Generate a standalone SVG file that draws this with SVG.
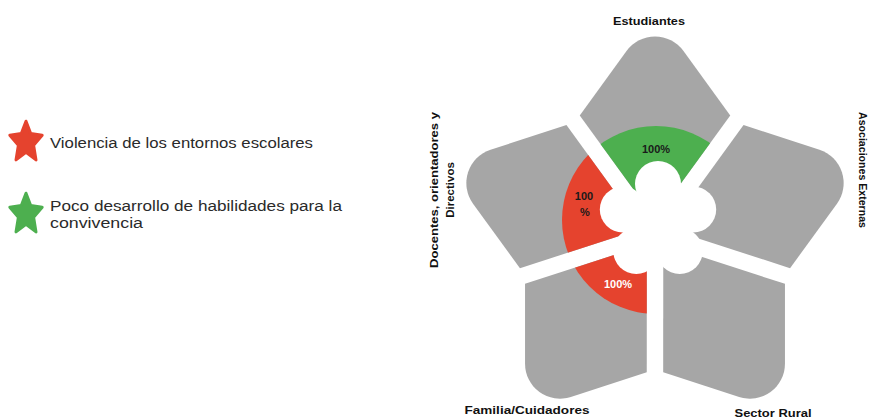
<svg xmlns="http://www.w3.org/2000/svg" xmlns:xlink="http://www.w3.org/1999/xlink" width="870" height="420" viewBox="0 0 870 420">
<style>
.petal{fill:#a6a6a6}
.red{fill:#e5432e}
.green{fill:#4daf4f}
.lbl{font-family:"Liberation Sans",Arial,sans-serif;font-weight:bold;font-size:11.5px;fill:#111}
.pct{font-family:"Liberation Sans",Arial,sans-serif;font-weight:bold;font-size:11px;text-anchor:middle}
.leg{font-family:"Liberation Sans",Arial,sans-serif;font-size:14px;fill:#2a2a2a}
.star{stroke-linejoin:round;stroke-width:3}
</style>
<defs>
<path id="petal" d="M0,-14 L75.24,-117.55 L28.31,-182.14 A35,35 0 0 0 -28.31,-182.14 L-75.24,-117.55 Z"/>
<path id="starShape" d="M0,-20.8 L4.7,-8.4 L16.17,-6.8 L7.61,3.2 L9.99,17.9 L0,10.4 L-9.99,17.9 L-7.61,3.2 L-16.17,-6.8 L-4.7,-8.4 Z"/>
<clipPath id="clipEst"><use href="#petal" transform="translate(655,233)"/></clipPath>
<clipPath id="clipDoc"><use href="#petal" transform="translate(655,233) rotate(288)"/></clipPath>
<clipPath id="clipFam"><use href="#petal" transform="translate(655,233) rotate(216)"/></clipPath>
</defs>

<g id="legend">
  <g id="legend-violencia">
    <use href="#starShape" class="red star" stroke="#e5432e" transform="translate(26,142)"/>
    <text class="leg" x="50" y="148" textLength="263" lengthAdjust="spacingAndGlyphs">Violencia de los entornos escolares</text>
  </g>
  <g id="legend-convivencia">
    <use href="#starShape" class="green star" stroke="#4daf4f" transform="translate(26,214)"/>
    <text class="leg" x="50" y="211" textLength="292" lengthAdjust="spacingAndGlyphs">Poco desarrollo de habilidades para la</text>
    <text class="leg" x="50" y="228" textLength="93" lengthAdjust="spacingAndGlyphs">convivencia</text>
  </g>
</g>

<g id="estudiantes">
  <use href="#petal" class="petal" transform="translate(655,233)"/>
  <circle class="green" cx="656" cy="220" r="94" clip-path="url(#clipEst)"/>
  <text class="pct" x="656" y="153" fill="#1a1a1a">100%</text>
  <text class="lbl" x="649" y="25" text-anchor="middle" textLength="72" lengthAdjust="spacingAndGlyphs">Estudiantes</text>
</g>

<g id="asociaciones">
  <use href="#petal" class="petal" transform="translate(655,233) rotate(72)"/>
  <text class="lbl" transform="translate(859,112) rotate(90)" textLength="116" lengthAdjust="spacingAndGlyphs">Asociaciones Externas</text>
</g>

<g id="sector-rural">
  <use href="#petal" class="petal" transform="translate(655,233) rotate(144)"/>
  <text class="lbl" x="773" y="417" text-anchor="middle" textLength="77" lengthAdjust="spacingAndGlyphs">Sector Rural</text>
</g>

<g id="familia">
  <use href="#petal" class="petal" transform="translate(655,233) rotate(216)"/>
  <circle class="red" cx="656" cy="220" r="94" clip-path="url(#clipFam)"/>
  <text class="pct" x="618" y="288" fill="#ffffff">100%</text>
  <text class="lbl" x="527" y="414" text-anchor="middle" textLength="125" lengthAdjust="spacingAndGlyphs">Familia/Cuidadores</text>
</g>

<g id="docentes">
  <use href="#petal" class="petal" transform="translate(655,233) rotate(288)"/>
  <circle class="red" cx="656" cy="220" r="94" clip-path="url(#clipDoc)"/>
  <text class="pct" x="584" y="200" fill="#1a1a1a">100</text>
  <text class="pct" x="585" y="216" fill="#1a1a1a">%</text>
  <text class="lbl" transform="translate(438,190) rotate(-90)" text-anchor="middle" textLength="156" lengthAdjust="spacingAndGlyphs">Docentes, orientadores y</text>
  <text class="lbl" transform="translate(454,190) rotate(-90)" text-anchor="middle">Directivos</text>
</g>

<g id="centro" fill="#ffffff">
  <circle cx="658" cy="221" r="32"/>
  <circle cx="658" cy="184" r="23"/>
  <circle cx="693.19" cy="209.57" r="23"/>
  <circle cx="679.75" cy="250.93" r="23"/>
  <circle cx="636.25" cy="250.93" r="23"/>
  <circle cx="622.81" cy="209.57" r="23"/>
</g>
</svg>
